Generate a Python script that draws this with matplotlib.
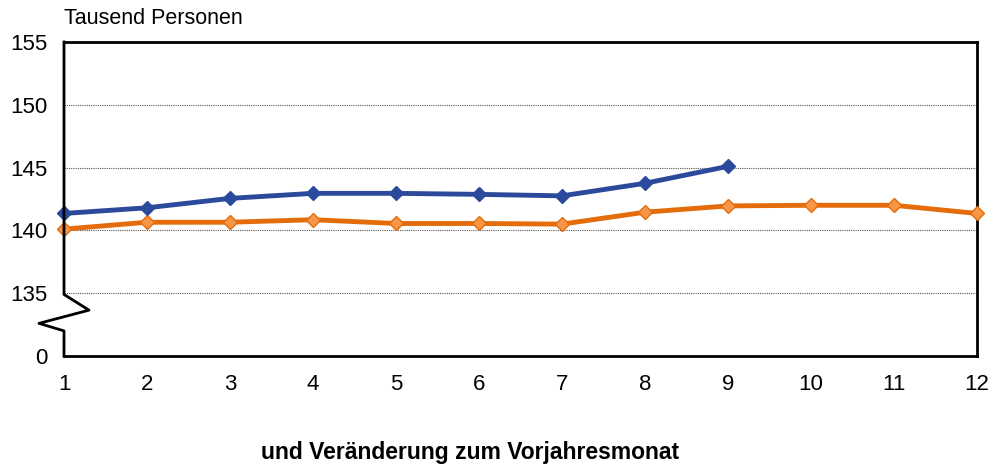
import matplotlib
matplotlib.use("Agg")
import matplotlib.pyplot as plt
import matplotlib.transforms as mtransforms
from matplotlib.lines import Line2D

plt.rcParams['font.family'] = ['Liberation Sans', 'DejaVu Sans']

months = [1, 2, 3, 4, 5, 6, 7, 8, 9, 10, 11, 12]
current_year = [141.35, 141.8, 142.55, 142.95, 142.95, 142.87, 142.75, 143.75, 145.1]
previous_year = [140.1, 140.65, 140.65, 140.85, 140.55, 140.55, 140.5, 141.45, 141.95, 142.0, 142.0, 141.35]
ytick_values = [130, 135, 140, 145, 150, 155]
ytick_labels = ['0', '135', '140', '145', '150', '155']

fig = plt.figure(figsize=(9.94, 4.68), dpi=100)
ax = fig.add_axes([64 / 994, 1 - 356 / 468, 913 / 994, 314 / 468])

ax.plot(months, previous_year, color='#e46c0a', lw=3.5, marker='D', ms=7.5,
        mfc='#f79646', mec='#e46c0a', mew=1, zorder=3, clip_on=False)
ax.plot(months[:len(current_year)], current_year, color='#2b4a9c', lw=3.5, marker='D', ms=7.5,
        mfc='#2b4a9c', mec='#2b4a9c', zorder=4, clip_on=False)

ax.set_xlim(1, 12)
ax.set_ylim(130, 155)
ax.set_xticks(months)
ax.set_yticks(ytick_values)
ax.set_yticklabels(ytick_labels)
ax.tick_params(axis='both', length=0, labelsize=16, colors='black')
ax.tick_params(axis='x', pad=13)
ax.tick_params(axis='y', pad=12)

for v in [135, 140, 145, 150]:
    ax.axhline(v, color='#555555', lw=0.8, ls=(0, (1, 1)), zorder=1)

for side in ['top', 'right', 'bottom']:
    ax.spines[side].set_color('black')
    ax.spines[side].set_linewidth(2)
ax.spines['left'].set_visible(False)

# left axis with break symbol
trans = mtransforms.blended_transform_factory(ax.transAxes, ax.transData)
dx = 25 / 913
bx = [0, 0, dx, -dx, 0, 0]
by = [155, 134.9, 133.65, 132.6, 132.0, 130]
ax.add_line(Line2D(bx, by, transform=trans, color='black', lw=2, clip_on=False, zorder=5))

fig.text(64 / 994, 1 - 19 / 468, 'Tausend Personen', fontsize=15.5, ha='left', va='center')
fig.text(470 / 994, 1 - 452 / 468, 'und Veränderung zum Vorjahresmonat', fontsize=16.5,
         fontweight='bold', ha='center', va='center')

fig.savefig('out.png', dpi=100)
